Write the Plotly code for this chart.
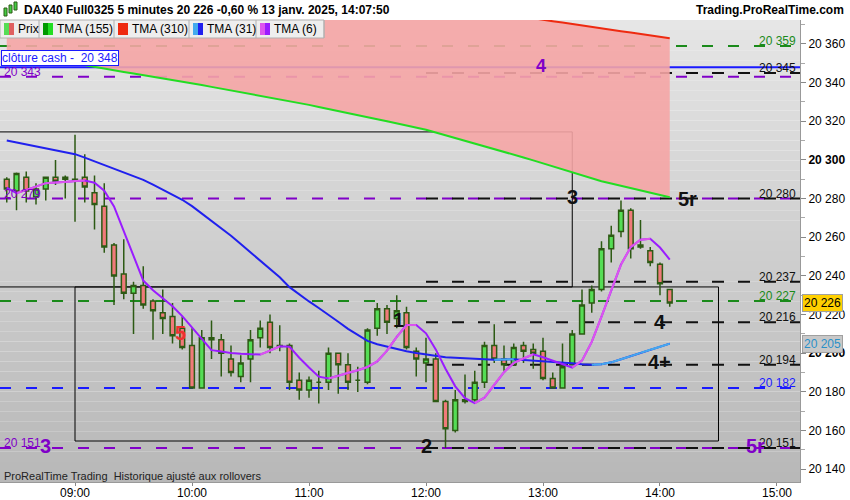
import plotly.graph_objects as go
import pandas as pd

# ---------------- data ----------------
start_time = "2025-01-13 08:25"
n_bars = 69
opens = [20290, 20284, 20291, 20281, 20285, 20291, 20291, 20289, 20291, 20283,
         20276, 20256, 20241, 20231, 20235, 20227, 20221, 20219, 20213, 20204,
         20182, 20207, 20207, 20197, 20188, 20197, 20208, 20216, 20204, 20204,
         20186, 20181, 20185, 20185, 20200, 20194, 20186, 20185, 20213, 20223,
         20218, 20221, 20201, 20195, 20197, 20175, 20160, 20176, 20176, 20185,
         20204, 20197, 20194, 20204, 20202, 20201, 20187, 20182, 20194, 20210,
         20226, 20233, 20254, 20263, 20274, 20256, 20253, 20246, 20233]
highs = [20291, 20293.5, 20294, 20288, 20291, 20300, 20292, 20313, 20303, 20292,
         20288, 20257, 20259, 20237, 20245, 20228, 20233, 20226, 20219, 20213,
         20212, 20217, 20210, 20204, 20199, 20212, 20217, 20220, 20214.5, 20205,
         20190, 20188, 20191, 20203, 20200, 20200, 20193, 20213, 20226, 20225,
         20230, 20224, 20203, 20208, 20200, 20176, 20181, 20189, 20191, 20206,
         20215, 20204, 20205, 20206, 20205, 20208, 20190, 20205, 20212, 20233,
         20235, 20258, 20266, 20279, 20275, 20269, 20255, 20247, 20233]
lows = [20278, 20274, 20278, 20277, 20279, 20287, 20280, 20268, 20278, 20264,
        20252, 20225, 20228, 20210, 20223, 20207, 20210, 20205, 20202, 20182,
        20182, 20197, 20188, 20188, 20185, 20185, 20203, 20200, 20201, 20181,
        20176, 20177, 20174, 20181, 20179, 20181, 20180, 20184, 20209, 20210,
        20213, 20202, 20188, 20185, 20175, 20151, 20159, 20174, 20175, 20182,
        20195, 20191, 20194, 20195, 20192, 20186, 20182, 20182, 20194, 20210,
        20221, 20232, 20247, 20260, 20249, 20254, 20245, 20230, 20224]
closes = [20285, 20293, 20284, 20285, 20291, 20289, 20290, 20290, 20286, 20277,
          20255, 20240, 20231, 20235, 20225, 20222, 20218, 20209, 20203, 20182,
          20208, 20208, 20200, 20190, 20195, 20207, 20213, 20203, 20203.5, 20185,
          20181, 20186, 20185, 20200, 20194, 20185, 20186, 20212, 20223, 20216,
          20222, 20203, 20197, 20197, 20175, 20161, 20176, 20175, 20185, 20204,
          20197, 20194, 20203, 20201, 20200, 20187, 20182, 20193, 20210, 20225,
          20233, 20254, 20261, 20274, 20254, 20255, 20247, 20236, 20226]

tma155 = [20356.2, 20355.3, 20354.4, 20353.4, 20352.5, 20351.6, 20350.7, 20349.8, 20348.8, 20347.9,
          20347.1, 20346.3, 20345.5, 20344.7, 20343.9, 20343.1, 20342.3, 20341.5, 20340.6, 20339.7,
          20338.8, 20337.8, 20336.9, 20336.0, 20335.1, 20334.1, 20333.2, 20332.3, 20331.4, 20330.4,
          20329.5, 20328.5, 20327.4, 20326.4, 20325.3, 20324.3, 20323.2, 20322.1, 20321.1, 20320.0,
          20319.0, 20317.9, 20316.9, 20315.6, 20314.2, 20312.8, 20311.5, 20310.1, 20308.7, 20307.3,
          20305.9, 20304.5, 20302.9, 20301.3, 20299.8, 20298.2, 20296.6, 20295.1, 20293.5, 20291.9,
          20290.4, 20289.0, 20287.8, 20286.6, 20285.4, 20284.3, 20283.1, 20281.9, 20280.7]
tma310 = [20413.4, 20412.7, 20411.9, 20411.2, 20410.4, 20409.7, 20409.0, 20408.2, 20407.5, 20406.7,
          20406.0, 20405.2, 20404.5, 20403.8, 20403.0, 20402.3, 20401.5, 20400.8, 20400.0, 20399.3,
          20398.6, 20397.8, 20397.1, 20396.3, 20395.6, 20394.8, 20394.1, 20393.4, 20392.6, 20391.9,
          20391.1, 20390.4, 20389.6, 20388.9, 20388.2, 20387.4, 20386.7, 20385.9, 20385.2, 20384.4,
          20383.7, 20383.0, 20382.2, 20381.5, 20380.7, 20380.0, 20379.2, 20378.5, 20377.8, 20377.0,
          20376.3, 20375.5, 20374.8, 20374.0, 20373.3, 20372.6, 20371.8, 20371.1, 20370.3, 20369.6,
          20368.8, 20368.1, 20367.4, 20366.6, 20365.9, 20365.1, 20364.4, 20363.6, 20362.9]
tma31 = [20310.1, 20309.1, 20308.1, 20307.1, 20306.1, 20305.1, 20304.1, 20303.0, 20301.2, 20299.3,
         20297.5, 20295.6, 20293.7, 20291.8, 20289.7, 20287.2, 20284.6, 20282.0, 20279.4, 20276.1,
         20272.3, 20268.5, 20264.6, 20260.8, 20256.5, 20252.2, 20247.9, 20243.6, 20239.3, 20234.2,
         20230.3, 20226.8, 20223.4, 20220.0, 20216.3, 20212.6, 20209.5, 20206.4, 20204.7, 20203.4,
         20202.2, 20201.0, 20200.1, 20199.3, 20198.4, 20197.9, 20197.7, 20197.4, 20197.1, 20196.9,
         20196.7, 20196.8, 20196.9, 20196.5, 20196.2, 20195.9, 20195.7, 20195.3, 20194.8, 20194.3,
         20194.0, 20194.3, 20195.3, 20196.9, 20198.5, 20200.2, 20201.8, 20203.4, 20205.0]
tma6 = [20285.7, 20282.8, 20284.5, 20286.2, 20288.0, 20288.3, 20288.6, 20289.1, 20289.4, 20288.2,
        20284.1, 20276.0, 20263.0, 20250.7, 20237.6, 20232.6, 20228.6, 20224.3, 20219.2, 20213.2,
        20207.2, 20201.6, 20200.9, 20200.1, 20199.7, 20199.4, 20199.3, 20201.4, 20203.6, 20203.4,
        20197.7, 20192.6, 20187.9, 20186.9, 20188.3, 20189.9, 20191.2, 20192.9, 20195.8, 20201.4,
        20208.5, 20214.6, 20214.6, 20210.3, 20202.0, 20192.0, 20182.9, 20176.8, 20174.2, 20177.0,
        20183.8, 20190.2, 20195.0, 20197.4, 20199.5, 20197.9, 20196.1, 20194.1, 20192.6, 20196.2,
        20205.9, 20218.9, 20232.6, 20245.9, 20254.9, 20258.7, 20259.2, 20254.7, 20248.5]

# horizontal levels
full_levels = [(20359, "#1a8a1a"), (20343, "#8000c8"), (20280, "#8000c8"),
               (20227, "#1a8a1a"), (20182, "#1a1aff"), (20151, "#8000c8")]
noon_levels = [20345, 20280, 20237, 20216, 20194, 20151]
right_labels = [(20359, "20 359", "#1a8a1a"), (20345, "20 345", "#111"), (20280, "20 280", "#111"),
                (20237, "20 237", "#111"), (20227, "20 227", "#1a8a1a"), (20216, "20 216", "#111"),
                (20194, "20 194", "#111"), (20182, "20 182", "#1a1aff"), (20151, "20 151", "#111")]
left_labels = [(20343, "20 343"), (20280, "20 279"), (20151, "20 151")]
cash_close = 20348
last_price = 20226
tma31_last = 20205
ytick_vals = [20140, 20160, 20180, 20200, 20220, 20240, 20260, 20280, 20300, 20320, 20340, 20360]
xtick_labels = ["09:00", "10:00", "11:00", "12:00", "13:00", "14:00", "15:00"]
wave_labels = [  # time, price, text, colour, size
    ("2025-01-13 13:15", 20281, "3", "#111", 20),
    ("2025-01-13 14:14", 20280, "5r", "#111", 20),
    ("2025-01-13 14:00", 20216, "4", "#111", 20),
    ("2025-01-13 14:00", 20195.5, "4+", "#111", 20),
    ("2025-01-13 11:46", 20217, "1", "#111", 20),
    ("2025-01-13 12:00", 20152, "2", "#111", 20),
    ("2025-01-13 09:54", 20210.5, "5", "#ee3030", 20),
    ("2025-01-13 08:45", 20152, "3", "#8000c8", 20),
    ("2025-01-13 14:49", 20152, "5r", "#8000c8", 20),
    ("2025-01-13 12:59", 20348.5, "4", "#8000c8", 18),
]

times = list(pd.date_range(start_time, periods=n_bars, freq="5min"))

# ---------------- geometry helpers (decoration only) ----------------
W, H = 850, 500
PL, PR, PT, PB = 0, 800, 20, 482


def px(xp):
    return (xp - PL) / (PR - PL)


def py(yp):
    return (PB - yp) / (PB - PT)


YMIN, YMAX = 20133.4, 20372.4
XMIN, XMAX = "2025-01-13 08:21:32", "2025-01-13 15:11:48"

fig = go.Figure()

shapes = []
# background gradient
nb = 46
band = (PB - PT) / nb
for k in range(nb):
    c = int(230 - 46 * k / (nb - 1))
    shapes.append(dict(type="rect", xref="paper", yref="paper", layer="below",
                       x0=0, x1=1, y0=py(PT + (k + 1) * band), y1=py(PT + k * band),
                       line=dict(width=0), fillcolor=f"rgb({c},{c},{c})"))

# boxes
shapes.append(dict(type="rect", xref="x", yref="y", layer="below",
                   x0="2025-01-13 08:19", x1="2025-01-13 13:15", y0=20234.3, y1=20314.5,
                   line=dict(color="#000", width=1)))
shapes.append(dict(type="rect", xref="x", yref="y", layer="below",
                   x0="2025-01-13 09:00", x1="2025-01-13 14:30", y0=20154.6, y1=20234.3,
                   line=dict(color="#000", width=1)))

# dashed levels
for p, c in full_levels:
    shapes.append(dict(type="line", xref="paper", yref="y", layer="below", x0=0, x1=1, y0=p, y1=p,
                       line=dict(color=c, width=2, dash="11px,15px")))
for p in noon_levels:
    shapes.append(dict(type="line", xref="x", yref="y", layer="below",
                       x0="2025-01-13 12:00", x1=XMAX, y0=p, y1=p,
                       line=dict(color="#111", width=2, dash="12px,14px")))
shapes.append(dict(type="line", xref="paper", yref="y", layer="below", x0=0, x1=1,
                   y0=cash_close, y1=cash_close, line=dict(color="#1a1aff", width=2)))

# candles
dark = "#2d5a14"
fig.add_trace(go.Candlestick(
    x=times, open=opens, high=highs, low=lows, close=closes,
    increasing=dict(line=dict(color=dark, width=1.5), fillcolor="#55dd55"),
    decreasing=dict(line=dict(color=dark, width=1.5), fillcolor="#f07a7a"),
    whiskerwidth=0, hoverinfo="skip", showlegend=False))

# pink zone between TMA310 and TMA155
fig.add_trace(go.Scatter(x=times, y=tma155, mode="lines", line=dict(width=0),
                         showlegend=False, hoverinfo="skip"))
fig.add_trace(go.Scatter(x=times, y=tma310, mode="lines", line=dict(color="#ee2a10", width=2),
                         fill="tonexty", fillcolor="rgba(245,165,165,0.9)",
                         showlegend=False, hoverinfo="skip"))
fig.add_trace(go.Scatter(x=times, y=tma155, mode="lines", line=dict(color="#22dd22", width=2),
                         showlegend=False, hoverinfo="skip"))


def two_colour(vals, down_col, up_col, width=2):
    fig.add_trace(go.Scatter(x=times, y=vals, mode="lines", line=dict(color=down_col, width=width),
                             showlegend=False, hoverinfo="skip"))
    xs, ys = [], []
    for i in range(1, len(vals)):
        if vals[i] >= vals[i - 1]:
            xs += [times[i - 1], times[i], None]
            ys += [vals[i - 1], vals[i], None]
    fig.add_trace(go.Scatter(x=xs, y=ys, mode="lines", line=dict(color=up_col, width=width),
                             connectgaps=False, showlegend=False, hoverinfo="skip"))


two_colour(tma31, "#2020ee", "#44aaee")
two_colour(tma6, "#9a1cff", "#dd55ee")

ann = []
FONT = "Arial, Liberation Sans, sans-serif"

for p, t, c in right_labels:
    ann.append(dict(xref="paper", yref="y", x=px(797), y=p, xanchor="right", yanchor="bottom",
                    text=t, showarrow=False, font=dict(family=FONT, size=12, color=c),
                    yshift=-3, borderpad=0))
for p, t in left_labels:
    ann.append(dict(xref="paper", yref="y", x=px(3), y=p, xanchor="left", yanchor="bottom",
                    text=t, showarrow=False, font=dict(family=FONT, size=12, color="#8000c8"),
                    yshift=-3, borderpad=0))
for tm, p, t, c, s in wave_labels:
    ann.append(dict(xref="x", yref="y", x=tm, y=p, text=f"<b>{t}</b>", showarrow=False,
                    font=dict(family=FONT, size=s, color=c), xanchor="center", yanchor="middle"))

ann.append(dict(xref="paper", yref="paper", x=px(1), y=py(58), xanchor="left", yanchor="middle",
                text=f"clôture cash -  {cash_close:,}".replace(",", " "), showarrow=False,
                font=dict(family=FONT, size=12, color="#1a1aff"), bgcolor="white",
                bordercolor="#1a1aff", borderwidth=1, borderpad=0))

ann.append(dict(xref="paper", yref="y", x=px(802), y=last_price, xanchor="left", yanchor="middle",
                text=f"{last_price:,}".replace(",", " "), showarrow=False,
                font=dict(family=FONT, size=12, color="#000"), bgcolor="#ffd000",
                bordercolor="#a0a0a0", borderwidth=1, borderpad=1))
ann.append(dict(xref="paper", yref="y", x=px(802), y=tma31_last, xanchor="left", yanchor="middle",
                text=f"{tma31_last:,}".replace(",", " "), showarrow=False,
                font=dict(family=FONT, size=12, color="#2a90c8"), bgcolor="#c8c8c8",
                bordercolor="#a0a0a0", borderwidth=1, borderpad=1))

ann.append(dict(xref="paper", yref="paper", x=px(22), y=py(10), xanchor="left", yanchor="middle",
                text="<b>DAX40 Full0325 5 minutes 20 226 -0,60 % 13 janv. 2025, 14:07:50</b>",
                showarrow=False, font=dict(family=FONT, size=12, color="#000")))
ann.append(dict(xref="paper", yref="paper", x=px(846), y=py(10), xanchor="right", yanchor="middle",
                text="<b>Trading.ProRealTime.com</b>", showarrow=False,
                font=dict(family=FONT, size=12, color="#000")))
for (a, b, c0, c1) in [(4, 7, 8, 16), (9, 12, 5, 13), (14, 17, 2, 10)]:
    shapes.append(dict(type="rect", xref="paper", yref="paper", x0=px(a), x1=px(b), y0=py(c1), y1=py(c0),
                       fillcolor="#44cc44", line=dict(color="#2d5a14", width=1)))

shapes.append(dict(type="rect", xref="paper", yref="paper", layer="above", x0=px(0), x1=px(324),
                   y0=py(38), y1=py(20), fillcolor="#eeeeee", line=dict(color="#b0b0b0", width=1)))
legend_items = [(0, 39, "Prix", "#55dd55", "#e06060"), (39, 114, "TMA (155)", "#009900", "#22dd22"),
                (114, 189, "TMA (310)", "#ee2a10", "#ee2a10"), (189, 256, "TMA (31)", "#44aaee", "#2020ee"),
                (256, 324, "TMA (6)", "#dd55ee", "#9a1cff")]
for a, b, t, c1, c2 in legend_items:
    shapes.append(dict(type="line", xref="paper", yref="paper", layer="above", x0=px(b), x1=px(b),
                       y0=py(38), y1=py(20), line=dict(color="#b0b0b0", width=1)))
    shapes.append(dict(type="rect", xref="paper", yref="paper", layer="above", x0=px(a + 4), x1=px(a + 9),
                       y0=py(35), y1=py(23), fillcolor=c1, line=dict(width=0)))
    shapes.append(dict(type="rect", xref="paper", yref="paper", layer="above", x0=px(a + 9), x1=px(a + 14),
                       y0=py(35), y1=py(23), fillcolor=c2, line=dict(width=0)))
    ann.append(dict(xref="paper", yref="paper", x=px(a + 16), y=py(29), xanchor="left", yanchor="middle",
                    text=t, showarrow=False, font=dict(family=FONT, size=12, color="#000")))

ann.append(dict(xref="paper", yref="paper", x=px(2), y=py(476), xanchor="left", yanchor="middle",
                text="ProRealTime Trading  Historique ajusté aux rollovers", showarrow=False,
                font=dict(family=FONT, size=11, color="#222")))

ytext = []
for v in ytick_vals:
    s = f"{v:,}".replace(",", " ")
    ytext.append(f"<b>{s}</b>" if v % 100 == 0 else s)

fig.update_layout(
    width=W, height=H, autosize=False,
    margin=dict(l=PL, r=W - PR, t=PT, b=H - PB, autoexpand=False),
    paper_bgcolor="white", plot_bgcolor="rgba(0,0,0,0)",
    shapes=shapes, annotations=ann, showlegend=False,
    xaxis=dict(type="date", range=[XMIN, XMAX], rangeslider=dict(visible=False),
               tickvals=[f"2025-01-13 {t}" for t in xtick_labels], ticktext=xtick_labels,
               showgrid=False, zeroline=False, ticks="outside", ticklen=3, tickcolor="#888",
               ticklabelstandoff=-3,
               showline=True, linecolor="#999", linewidth=1, automargin=False,
               tickfont=dict(family=FONT, size=12, color="#000")),
    yaxis=dict(side="right", range=[YMIN, YMAX], tickvals=ytick_vals, ticktext=ytext,
               showgrid=False, zeroline=False, ticks="outside", ticklen=5, tickcolor="#888",
               minor=dict(dtick=10, tick0=20130, ticks="outside", ticklen=4, tickcolor="#aaa"),
               showline=True, linecolor="#999", linewidth=1, automargin=False,
               tickfont=dict(family=FONT, size=12, color="#000")),
)

fig.write_html("out.html", post_script="document.body.style.margin='0px';",
               config={"displayModeBar": False})
